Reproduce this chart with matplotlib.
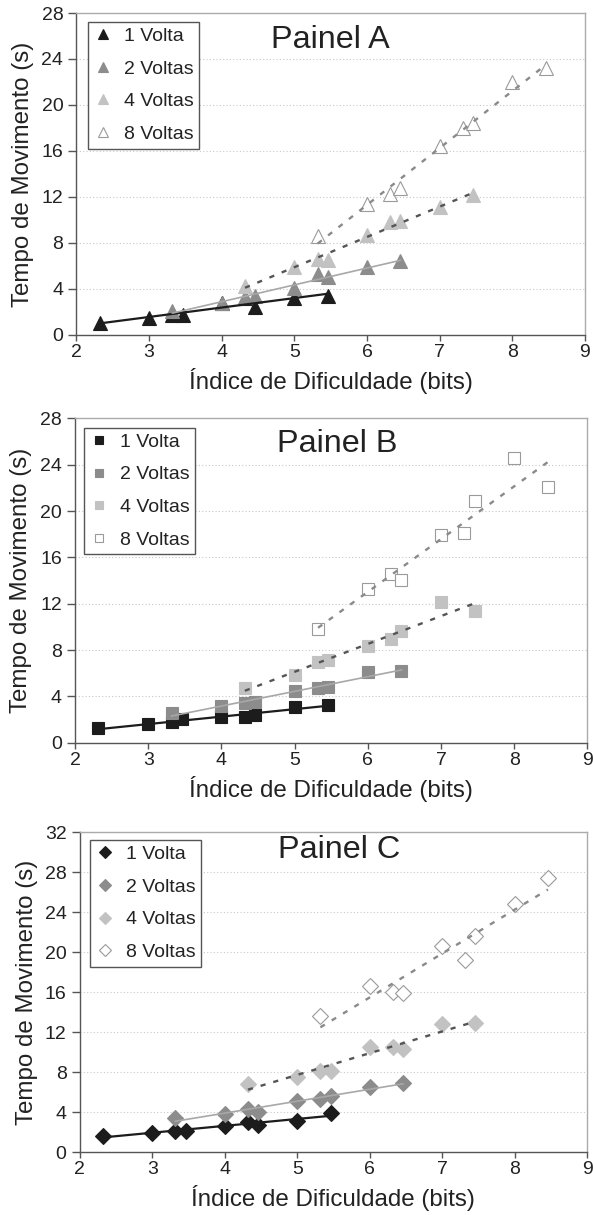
import numpy as np
import matplotlib
matplotlib.use("Agg")
import matplotlib.pyplot as plt

plt.rcParams['font.family'] = ['Liberation Sans', 'DejaVu Sans']

# ---- data ----
series_labels = ["1 Volta", "2 Voltas", "4 Voltas", "8 Voltas"]
x_1 = [2.32, 3.0, 3.32, 3.46, 4.0, 4.32, 4.46, 5.0, 5.46]
x_2 = [3.32, 4.0, 4.32, 4.46, 5.0, 5.32, 5.46, 6.0, 6.46]
x_4 = [4.32, 5.0, 5.32, 5.46, 6.0, 6.32, 6.46, 7.0, 7.46]
x_8 = [5.32, 6.0, 6.32, 6.46, 7.0, 7.32, 7.46, 8.0, 8.46]

a_1 = [1.0, 1.5, 1.7, 1.75, 2.8, 3.2, 2.4, 3.2, 3.4]
a_2 = [2.1, 2.8, 3.3, 3.35, 4.1, 5.3, 5.0, 5.9, 6.4]
a_4 = [4.3, 5.9, 6.6, 6.5, 8.7, 9.8, 9.9, 11.1, 12.2]
a_8 = [8.6, 11.4, 12.3, 12.8, 16.4, 18.0, 18.4, 22.0, 23.2]

b_1 = [1.24, 1.59, 1.76, 2.07, 2.25, 2.19, 2.39, 3.11, 3.26]
b_2 = [2.54, 3.17, 3.46, 3.54, 4.49, 4.69, 4.84, 6.13, 6.22]
b_4 = [4.75, 5.85, 6.94, 7.14, 8.35, 8.93, 9.67, 12.18, 11.37]
b_8 = [9.79, 13.27, 14.57, 14.05, 17.94, 18.14, 20.87, 24.56, 22.06]

c_1 = [1.67, 1.9, 2.13, 2.16, 2.63, 3.06, 2.73, 3.16, 3.9]
c_2 = [3.46, 3.83, 4.3, 4.06, 5.13, 5.3, 5.63, 6.5, 6.96]
c_4 = [6.83, 7.5, 8.13, 8.13, 10.57, 10.5, 10.3, 12.83, 12.9]
c_8 = [13.57, 16.63, 15.97, 15.9, 20.63, 19.23, 21.63, 24.83, 27.4]

panel_titles = ["Painel A", "Painel B", "Painel C"]
x_ticks = [2, 3, 4, 5, 6, 7, 8, 9]
y_ticks_ab = [0, 4, 8, 12, 16, 20, 24, 28]
y_ticks_c = [0, 4, 8, 12, 16, 20, 24, 28, 32]
xlabel = "Índice de Dificuldade (bits)"
ylabel = "Tempo de Movimento (s)"

# ---- style ----
face_colors = ["#1c1c1c", "#8c8c8c", "#c2c2c2", "white"]
edge_colors = ["#1c1c1c", "#8c8c8c", "#c2c2c2", "#9a9a9a"]
line_colors = ["#1c1c1c", "#a8a8a8", "#555555", "#8a8a8a"]
line_styles = ["-", "-", (0, (2.2, 3.4)), (0, (2.2, 3.4))]
line_widths = [1.6, 1.2, 1.7, 1.7]

fig = plt.figure(figsize=(5.93, 12.15), dpi=100)

panels = [
    dict(pos=[0.129, 0.7243, 0.8575, 0.2650], ys=[a_1, a_2, a_4, a_8], marker="^", ms=9.6,
         yticks=y_ticks_ab, ymax=28, title_xy=(0.50, 0.89), leg=(0.0226, 0.973)),
    dict(pos=[0.1265, 0.3887, 0.8641, 0.2669], ys=[b_1, b_2, b_4, b_8], marker="s", ms=8.6,
         yticks=y_ticks_ab, ymax=28, title_xy=(0.5115, 0.8976), leg=(0.0176, 0.9716)),
    dict(pos=[0.1346, 0.0516, 0.8553, 0.2636], ys=[c_1, c_2, c_4, c_8], marker="D", ms=7.8,
         yticks=y_ticks_c, ymax=32, title_xy=(0.511, 0.919), leg=(0.020, 0.976)),
]
xs = [x_1, x_2, x_4, x_8]

for p, title in zip(panels, panel_titles):
    ax = fig.add_axes(p["pos"])
    handles = []
    for i in range(4):
        x = np.array(xs[i]); y = np.array(p["ys"][i])
        h, = ax.plot(x, y, linestyle="none", marker=p["marker"], ms=p["ms"],
                     mfc=face_colors[i], mec=edge_colors[i], mew=0.8, zorder=3,
                     label=series_labels[i])
        handles.append(h)
    for i in range(4):
        x = np.array(xs[i]); y = np.array(p["ys"][i])
        k, b = np.polyfit(x, y, 1)
        xx = np.array([x.min(), x.max()])
        ax.plot(xx, k * xx + b, color=line_colors[i], ls=line_styles[i],
                lw=line_widths[i], zorder=4)
    ax.set_xlim(2, 9)
    ax.set_ylim(0, p["ymax"])
    ax.set_xticks(x_ticks)
    ax.set_yticks(p["yticks"])
    for yv in p["yticks"][1:-1]:
        ax.axhline(yv, color="#c8c8c8", lw=0.8, ls=(0, (1, 2)), zorder=1)
    ax.tick_params(axis="both", labelsize=14, colors="#222222")
    ax.tick_params(axis="y", length=6, width=1, pad=3.5, color="#555555")
    ax.tick_params(axis="x", length=4, width=1, pad=2.5, color="#555555")
    for s in ["left", "bottom"]:
        ax.spines[s].set_color("#555555"); ax.spines[s].set_linewidth(1.0)
    for s in ["top", "right"]:
        ax.spines[s].set_color("#ababab"); ax.spines[s].set_linewidth(1.0)
    ax.set_xlabel(xlabel, fontsize=17.4, color="#222222")
    ax.set_ylabel(ylabel, fontsize=17.4, color="#222222")
    ax.xaxis.set_label_coords(0.5, -0.103)
    ax.yaxis.set_label_coords(-0.083, 0.5)
    ax.text(p["title_xy"][0], p["title_xy"][1], title, transform=ax.transAxes,
            ha="center", va="baseline", fontsize=23.3, color="#222222")
    leg = ax.legend(handles=handles, loc="upper left", bbox_to_anchor=p["leg"],
                    fontsize=14, frameon=True, fancybox=False, framealpha=1,
                    edgecolor="#555555", borderpad=0.28, handlelength=1.0,
                    handletextpad=0.55, labelspacing=0.78, markerscale=0.72,
                    borderaxespad=0)
    leg.get_frame().set_linewidth(1.0)
    for t in leg.get_texts():
        t.set_color("#222222")

fig.savefig("out.png", dpi=100)
